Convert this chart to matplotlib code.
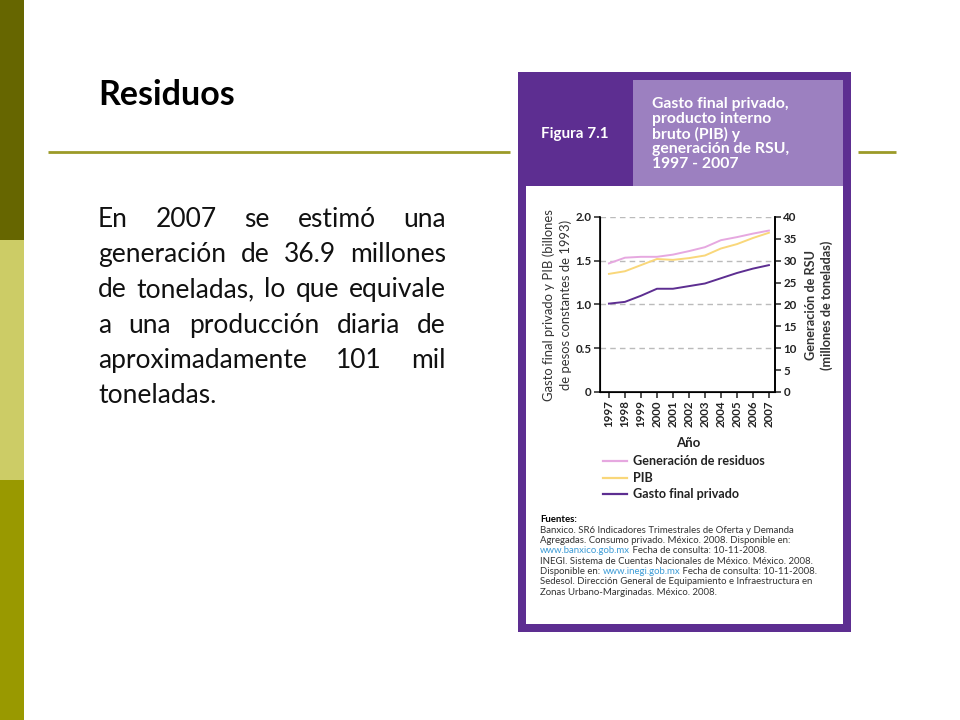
# Residuos slide: text + figura 7.1 (gasto privado, PIB y RSU, 1997-2007)
import matplotlib
matplotlib.use('Agg')
import matplotlib.pyplot as plt
from matplotlib.patches import Rectangle

plt.rcParams['font.family'] = ['Lato', 'DejaVu Sans']

# %% Data
years = [1997, 1998, 1999, 2000, 2001, 2002, 2003, 2004, 2005, 2006, 2007]
gasto_privado = [1.01, 1.03, 1.10, 1.18, 1.18, 1.21, 1.24, 1.30, 1.36, 1.41, 1.45]  # billones de pesos 1993
pib = [1.35, 1.38, 1.45, 1.52, 1.51, 1.53, 1.56, 1.64, 1.69, 1.76, 1.82]
residuos = [29.4, 30.7, 30.9, 30.9, 31.4, 32.2, 33.1, 34.7, 35.4, 36.2, 36.9]  # millones de toneladas

left_ticks = [0, 0.5, 1.0, 1.5, 2.0]
left_ticklabels = ['0', '0.5', '1.0', '1.5', '2.0']
right_ticks = [0, 5, 10, 15, 20, 25, 30, 35, 40]

body_lines = ['En 2007 se estimó una',
              'generación de 36.9 millones',
              'de toneladas, lo que equivale',
              'a una producción diaria de',
              'aproximadamente 101 mil',
              'toneladas.']

header_lines = ['Gasto final privado,', 'producto interno', 'bruto (PIB) y',
                'generación de RSU,', '1997 - 2007']

legend_labels = ['Generación de residuos', 'PIB', 'Gasto final privado']

LINK = '#3b9bd6'
fuentes = [
    [('Fuentes:', 'k', 'bold')],
    [('Banxico. SR6 Indicadores Trimestrales de Oferta y Demanda', '#333333', 'normal')],
    [('Agregadas. Consumo privado. México. 2008. Disponible en:', '#333333', 'normal')],
    [('www.banxico.gob.mx', LINK, 'normal'), (' Fecha de consulta: 10-11-2008.', '#333333', 'normal')],
    [('INEGI. Sistema de Cuentas Nacionales de México. México. 2008.', '#333333', 'normal')],
    [('Disponible en: ', '#333333', 'normal'), ('www.inegi.gob.mx', LINK, 'normal'),
     (' Fecha de consulta: 10-11-2008.', '#333333', 'normal')],
    [('Sedesol. Dirección General de Equipamiento e Infraestructura en', '#333333', 'normal')],
    [('Zonas Urbano-Marginadas. México. 2008.', '#333333', 'normal')],
]

# colours
PURPLE = '#5d2e91'
LIGHT_PURPLE = '#9c80c0'
PINK = '#e6a8e0'
YELLOW = '#f9d77a'
OLIVE = '#9c9a28'

# %% Figure / background in pixel coords
fig = plt.figure(figsize=(9.6, 7.2), dpi=100)
bg = fig.add_axes([0, 0, 1, 1], zorder=0)
bg.set_xlim(0, 960)
bg.set_ylim(720, 0)
bg.axis('off')
renderer = fig.canvas.get_renderer()


def text_width(s, **kw):
    t = bg.text(0, 0, s, **kw)
    w = t.get_window_extent(renderer).width
    t.remove()
    return w


# side bar
bg.add_patch(Rectangle((0, 0), 24, 240, color='#666600', lw=0))
bg.add_patch(Rectangle((0, 240), 24, 240, color='#cccc66', lw=0))
bg.add_patch(Rectangle((0, 480), 24, 240, color='#999900', lw=0))

# title + rule
bg.text(98, 105, 'Residuos', fontsize=24.5, fontweight='bold', va='baseline')
bg.plot([48, 510], [152, 152], color=OLIVE, lw=2, solid_capstyle='butt')
bg.plot([858, 896], [152, 152], color=OLIVE, lw=2, solid_capstyle='butt')

# justified body text
body_kw = dict(fontsize=19, va='baseline', color='#111111')
x0, x1 = 98, 446
for i, line in enumerate(body_lines):
    y = 227 + i * 35.2
    words = line.split()
    if i == len(body_lines) - 1:
        bg.text(x0, y, line, **body_kw)
        continue
    widths = [text_width(w, **body_kw) for w in words]
    gap = (x1 - x0 - sum(widths)) / (len(words) - 1)
    x = x0
    for w, wd in zip(words, widths):
        bg.text(x, y, w, **body_kw)
        x += wd + gap

# figure frame
bg.add_patch(Rectangle((518, 72), 333, 560, color=PURPLE, lw=0))
bg.add_patch(Rectangle((526, 186), 317, 438, color='white', lw=0))
bg.add_patch(Rectangle((633, 80), 210, 106, color=LIGHT_PURPLE, lw=0))
bg.text(541, 134, 'Figura 7.1', fontsize=11, fontweight='bold', color='white', va='center')
for i, line in enumerate(header_lines):
    bg.text(652, 104 + i * 15, line, fontsize=11.3, fontweight='bold', color='white', va='center')

# axis labels (pixel placed)
bg.text(549, 305, 'Gasto final privado y PIB (billones', rotation=90, fontsize=9.4,
        color='#333333', ha='center', va='center')
bg.text(566, 305, 'de pesos constantes de 1993)', rotation=90, fontsize=9.4,
        color='#333333', ha='center', va='center')
bg.text(811, 305, 'Generación de RSU', rotation=90, fontsize=9.2, fontweight='bold',
        color='#333333', ha='center', va='center')
bg.text(827, 305, '(millones de toneladas)', rotation=90, fontsize=9.2, fontweight='bold',
        color='#333333', ha='center', va='center')
bg.text(688, 443, 'Año', fontsize=9.5, fontweight='bold', color='#222222', ha='center', va='center')

# legend
leg_colors = [PINK, YELLOW, PURPLE]
for i, (lab, c) in enumerate(zip(legend_labels, leg_colors)):
    y = 461 + i * 16.5
    bg.plot([603, 627], [y, y], color=c, lw=1.6)
    bg.text(633, y, lab, fontsize=9.1, fontweight='bold', color='#222222', va='center')

# sources
for i, pieces in enumerate(fuentes):
    y = 520 + i * 10.3
    x = 540
    for s, c, wt in pieces:
        kw = dict(fontsize=6.9, color=c, fontweight=wt, va='center')
        bg.text(x, y, s, **kw)
        x += text_width(s.replace(' ', '\u00a0'), **kw)

# %% Chart
ax = fig.add_axes([600 / 960, 1 - 392 / 720, 175 / 960, 175 / 720], zorder=2)
ax.patch.set_alpha(0)
ax.set_xlim(1996.44, 2007.38)
ax.set_ylim(0, 2.0)
for yv in left_ticks[1:]:
    ax.axhline(yv, color='#bbbbbb', lw=1, ls=(0, (4, 3)), zorder=1)
ax.plot(years, pib, color=YELLOW, lw=1.4, zorder=3)
ax.plot(years, gasto_privado, color=PURPLE, lw=1.4, zorder=3)
ax.set_yticks(left_ticks)
ax.set_yticklabels(left_ticklabels)
ax.set_xticks(years)
ax.set_xticklabels([str(y) for y in years], rotation=90)
ax.tick_params(axis='both', labelsize=8.3, length=4, width=1.1, colors='#222222', pad=2)
for lab in ax.get_xticklabels() + ax.get_yticklabels():
    lab.set_fontweight('bold')
ax.spines['top'].set_visible(False)
for s in ['left', 'bottom', 'right']:
    ax.spines[s].set_linewidth(1.2)

ax2 = ax.twinx()
ax2.set_ylim(0, 40)
ax2.set_yticks(right_ticks)
ax2.plot(years, residuos, color=PINK, lw=1.4, zorder=3)
ax2.tick_params(axis='y', labelsize=8.3, length=4, width=1.1, colors='#222222', pad=2)
for lab in ax2.get_yticklabels():
    lab.set_fontweight('bold')
ax2.spines['top'].set_visible(False)
ax2.spines['right'].set_linewidth(1.2)

fig.savefig('out.png', dpi=100)
